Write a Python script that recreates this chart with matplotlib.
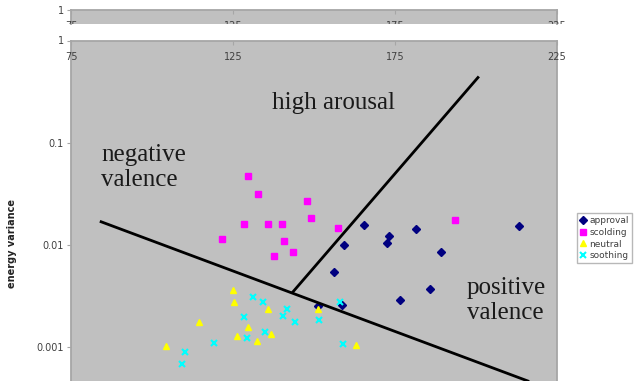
import matplotlib
matplotlib.use('Agg')  # no display
import matplotlib.pyplot as plt
from matplotlib.ticker import NullLocator
from matplotlib.transforms import offset_copy, Bbox, TransformedBbox

# data (x = pitch-ish score, y = energy variance)
approval_x = [165.3, 181.5, 213.3, 173.1, 172.6, 159.3, 189.3, 156.2, 185.7, 176.6, 158.6, 151.3]
approval_y = [0.0155, 0.0144, 0.0153, 0.0121, 0.0105, 0.0099, 0.0085, 0.0054, 0.0037, 0.0029, 0.0026, 0.0025]

scolding_x = [129.7, 132.6, 147.7, 149.0, 157.5, 193.5, 128.3, 135.8, 140.2, 121.7, 140.8, 143.5, 137.7]
scolding_y = [0.0475, 0.0311, 0.0268, 0.0184, 0.0145, 0.0173, 0.0161, 0.0161, 0.0161, 0.0114, 0.0110, 0.0085, 0.0077]

neutral_x = [125.0, 125.2, 135.7, 114.4, 129.5, 126.3, 136.6, 132.4, 104.3, 151.3, 162.9]
neutral_y = [0.00362, 0.00274, 0.00237, 0.00176, 0.00156, 0.00127, 0.00134, 0.00115, 0.00102, 0.00236, 0.00105]

soothing_x = [131.1, 134.3, 128.4, 141.6, 140.3, 144.0, 134.9, 129.2, 119.1, 110.1, 109.2, 158.0, 151.5, 158.9]
soothing_y = [0.00307, 0.00276, 0.00197, 0.00236, 0.00201, 0.00176, 0.00139, 0.00123, 0.00109, 0.00090,
              0.00068, 0.00274, 0.00183, 0.00107]

# hand-drawn boundary lines
valence_line_x = [84.3, 216.0]
valence_line_y = [0.0168, 0.000464]
arousal_line_x = [143.5, 200.6]
arousal_line_y = [0.00346, 0.434]

x_ticks = [75, 125, 175, 225]
y_ticks = [0.001, 0.01, 0.1, 1]
y_tick_labels = ['0.001', '0.01', '0.1', '1']

W, H = 638, 381
fig = plt.figure(figsize=(W / 100, H / 100), dpi=100)

axis_grey = '#a6a6a6'
text_grey = '#404040'


def chart_frame(ax, ylow, clip_box=None):
    ax.set_facecolor('#c0c0c0')
    ax.set_xlim(75, 225)
    ax.set_yscale('log')
    ax.set_ylim(ylow, 1)
    ax.yaxis.set_minor_locator(NullLocator())
    ticks = [t for t in y_ticks if t >= ylow]
    ax.set_yticks(ticks)
    ax.set_yticklabels([y_tick_labels[y_ticks.index(t)] for t in ticks])
    ax.tick_params(axis='y', length=3, color=axis_grey, labelsize=7, labelcolor=text_grey, pad=2)
    ax.xaxis.set_ticks_position('top')
    ax.set_xticks(x_ticks)
    ax.tick_params(axis='x', direction='in', length=3, color=axis_grey, labeltop=False, labelbottom=False)
    for s in ['top', 'left', 'right']:
        ax.spines[s].set_color(axis_grey)
        ax.spines[s].set_linewidth(1.3)
    ax.spines['bottom'].set_visible(False)
    # x labels sit inside the plot, just under the top axis
    trans = offset_copy(ax.get_xaxis_transform(), fig=fig, y=-16, units='dots')
    for v in x_ticks:
        t = ax.text(v, 1, str(v), transform=trans, ha='center', va='center',
                    fontsize=7, color=text_grey, zorder=5)
        if clip_box is not None:
            t.set_clip_box(clip_box)
            t.set_clip_on(True)


# main chart
ax = fig.add_axes([71 / W, 0, 486 / W, (H - 40.5) / H])
chart_frame(ax, 0.000464)

# cropped copy of the chart top sitting above it
strip_bottom = (H - 24) / H
ax_top = fig.add_axes([71 / W, strip_bottom, 486 / W, 14 / H])
clip = TransformedBbox(Bbox([[0, strip_bottom], [1, 1]]), fig.transFigure)
chart_frame(ax_top, 0.729, clip_box=clip)

ax.plot(approval_x, approval_y, ls='none', marker='D', ms=4, color='#000080', label='approval', zorder=3)
ax.plot(scolding_x, scolding_y, ls='none', marker='s', ms=4.5, color='#ff00ff', label='scolding', zorder=3)
ax.plot(neutral_x, neutral_y, ls='none', marker='^', ms=5, color='#ffff00', label='neutral', zorder=3)
ax.plot(soothing_x, soothing_y, ls='none', marker='x', ms=4.5, mew=1.5, color='#00ffff', label='soothing', zorder=3)

ax.plot(valence_line_x, valence_line_y, color='black', lw=2, zorder=4)
ax.plot(arousal_line_x, arousal_line_y, color='black', lw=2, zorder=4)

serif = dict(family='Liberation Serif', fontsize=18, color='#1a1a1a')
ax.text(137.0, 0.247, 'high arousal', ha='left', va='center', **serif)
ax.text(84.3, 0.0569, 'negative\nvalence', ha='left', va='center', **serif)
ax.text(197.2, 0.00286, 'positive\nvalence', ha='left', va='center', **serif)

fig.text(12 / W, 1 - 243 / H, 'energy variance', rotation=90, ha='center', va='center',
         fontsize=7, fontweight='bold', color='#222222')

leg = fig.legend(loc='upper left', bbox_to_anchor=(577 / W, 1 - 213 / H), fontsize=6.5,
                 frameon=True, fancybox=False, edgecolor=axis_grey, handlelength=0.7,
                 handletextpad=0.3, borderpad=0.35, labelspacing=0.3, borderaxespad=0)
for t in leg.get_texts():
    t.set_color(text_grey)

plt.savefig('out.png', dpi=100)
